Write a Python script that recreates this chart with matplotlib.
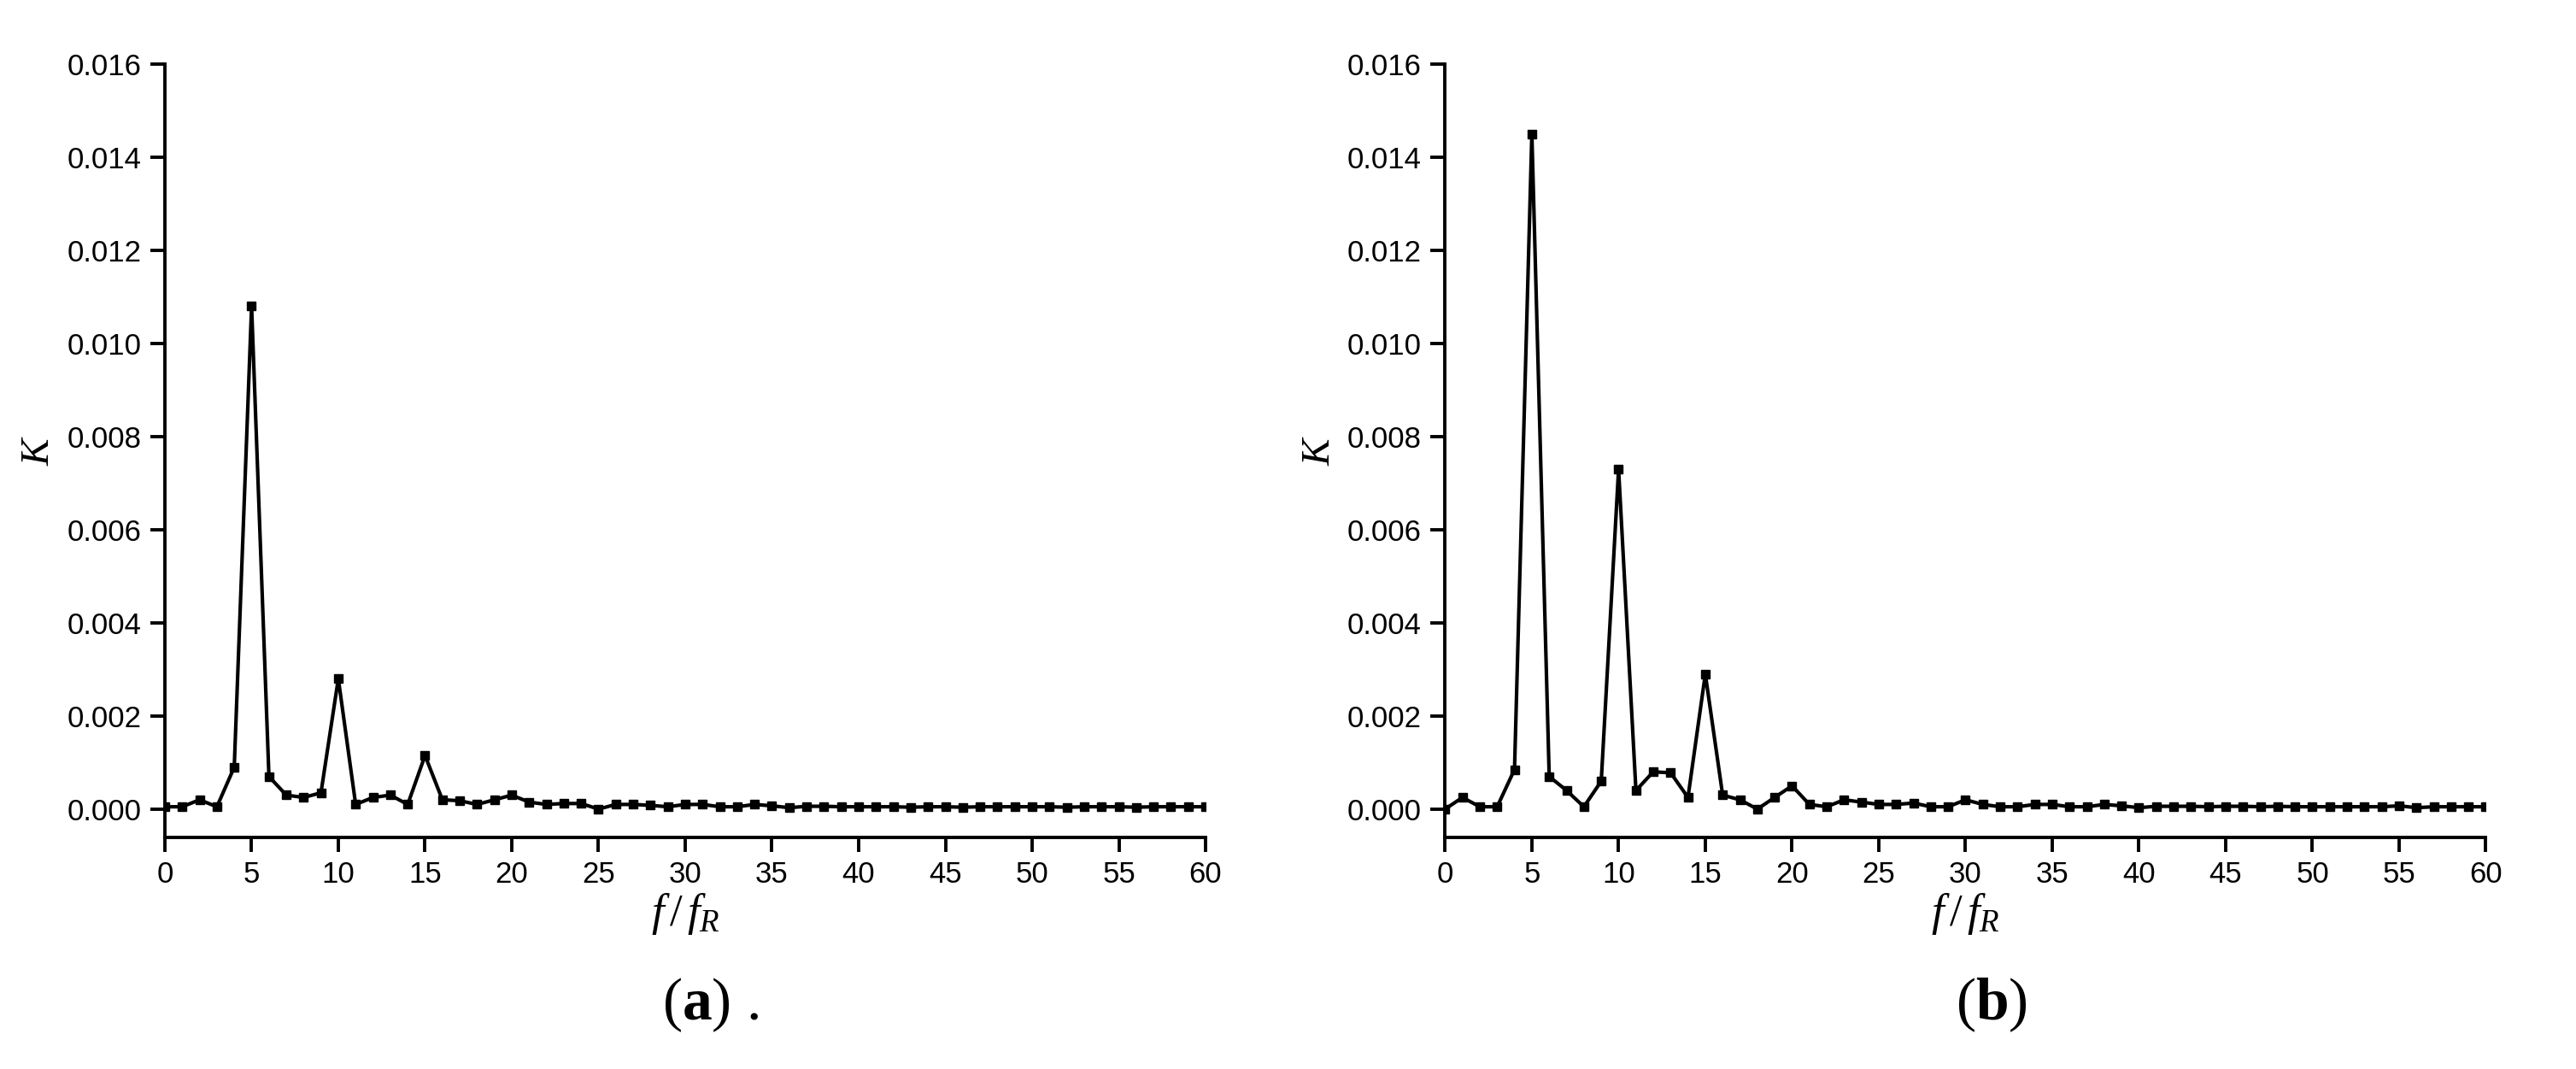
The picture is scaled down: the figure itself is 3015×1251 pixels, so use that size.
import matplotlib
matplotlib.use("Agg")
import matplotlib.pyplot as plt
import numpy as np

x = list(range(61))
k_a = [0.00005, 0.00005, 0.0002, 0.00005, 0.0009, 0.0108, 0.0007, 0.0003, 0.00025, 0.00035,
       0.0028, 0.0001, 0.00025, 0.0003, 0.0001, 0.00115, 0.0002, 0.00018, 0.0001, 0.0002,
       0.0003, 0.00015, 0.0001, 0.00012, 0.00012, 0.0, 0.0001, 0.0001, 0.00008, 0.00005,
       0.0001, 0.0001, 0.00005, 0.00005, 0.0001, 0.00007, 0.00003, 0.00006, 0.00006, 0.00005,
       0.00005, 0.00005, 0.00005, 0.00004, 0.00005, 0.00005, 0.00004, 0.00005, 0.00005, 0.00005,
       0.00005, 0.00005, 0.00004, 0.00005, 0.00005, 0.00005, 0.00004, 0.00005, 0.00005, 0.00005,
       0.00005]
k_b = [0.0, 0.00025, 0.00005, 0.00005, 0.00085, 0.0145, 0.0007, 0.0004, 0.00005, 0.0006,
       0.0073, 0.0004, 0.0008, 0.00078, 0.00025, 0.0029, 0.0003, 0.0002, 0.0, 0.00025,
       0.0005, 0.0001, 0.00005, 0.0002, 0.00015, 0.0001, 0.0001, 0.00013, 0.00005, 0.00005,
       0.0002, 0.0001, 0.00005, 0.00005, 0.0001, 0.0001, 0.00005, 0.00005, 0.0001, 0.00007,
       0.00003, 0.00006, 0.00006, 0.00006, 0.00005, 0.00006, 0.00006, 0.00005, 0.00006, 0.00005,
       0.00005, 0.00005, 0.00005, 0.00005, 0.00005, 0.00007, 0.00003, 0.00005, 0.00005, 0.00005,
       0.00005]
yticks = [0.000, 0.002, 0.004, 0.006, 0.008, 0.010, 0.012, 0.014, 0.016]
xticks = list(range(0, 61, 5))
captions = [r"($\mathbf{a}$) .", r"($\mathbf{b}$)"]

plt.rcParams['font.family'] = ['Liberation Sans', 'DejaVu Sans']
plt.rcParams['mathtext.fontset'] = 'custom'
plt.rcParams['mathtext.it'] = 'Liberation Serif:italic'
plt.rcParams['mathtext.rm'] = 'Liberation Serif'
plt.rcParams['mathtext.bf'] = 'Liberation Serif:bold'

fig = plt.figure(figsize=(30.15, 12.51), dpi=100)
lefts = [0.064, 0.561]
width = 0.404
for i, (data, cap) in enumerate(zip([k_a, k_b], captions)):
    ax = fig.add_axes([lefts[i], 0.217, width, 0.723])
    ax.plot(x, data, color='black', lw=3, marker='s', ms=7)
    ax.set_xlim(0, 60)
    ax.set_ylim(-0.0006, 0.016)
    ax.set_xticks(xticks)
    ax.set_yticks(yticks)
    ax.set_yticklabels([f"{v:.3f}" for v in yticks])
    for s in ['top', 'right']:
        ax.spines[s].set_visible(False)
    for s in ['left', 'bottom']:
        ax.spines[s].set_linewidth(2.8)
    ax.tick_params(direction='out', length=12, width=2.8, labelsize=25, pad=8)
    ax.set_xlabel(r"$f\,/\,f_R$", fontsize=38, labelpad=2)
    ax.set_ylabel(r"$K$", fontsize=34, labelpad=8)
    fig.text(lefts[i] + width / 2 + 0.01, 0.06, cap, fontsize=50, ha='center', va='center',
             family='Liberation Serif')

fig.savefig("out.png", dpi=100, facecolor='white')
